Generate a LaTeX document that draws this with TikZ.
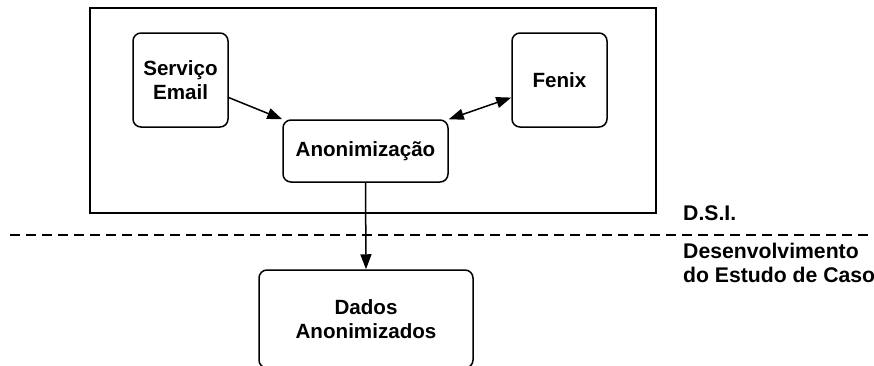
\documentclass[tikz,border=0pt]{standalone}
\usepackage{fontspec}
\setmainfont{Liberation Sans}
\usepackage{tikz}
\usetikzlibrary{arrows.meta}

\begin{document}
\begin{tikzpicture}[x=1pt, y=-1pt,
    box/.style={rectangle, draw, rounded corners=8pt, line width=1.5pt, align=center,
        font=\fontsize{20.6}{23.5}\selectfont\bfseries, inner sep=0pt},
    edge/.style={line width=1.5pt, -{Triangle[length=15pt,width=11pt]}}]
            \useasboundingbox (0,0) rectangle (874,365);

            % Frame and border
            \draw[line width=1.5pt] (90,8) rectangle (656,213);
            \draw[line width=1.5pt, dash pattern=on 10pt off 6pt] (10,235) -- (874,235);

            % Nodes
            \node[box, minimum width=95pt, minimum height=94pt] (servico) at (180.5,80) {Servi\c{c}o\\Email};
            \node[box, minimum width=95pt, minimum height=94pt] (fenix) at (559.5,80) {Fenix};
            \node[box, minimum width=165pt, minimum height=62pt] (anon) at (365.5,151) {Anonimiza\c{c}\~ao};
            \node[box, minimum width=214pt, minimum height=98pt] (dados) at (366,319) {Dados\\Anonimizados};

            % Labels
            \node[anchor=west, font=\fontsize{21.2}{23.5}\selectfont\bfseries, inner sep=0pt] (dsi) at (683,213) {D.S.I.};
            \node[anchor=west, align=left, font=\fontsize{21.2}{23.5}\selectfont\bfseries, inner sep=0pt] (estudo) at (683,263) {Desenvolvimento\\do Estudo de Caso};

            % Edges
            \draw[edge] (servico.-20.5) -- (anon.north west);
            \draw[edge, {Triangle[length=15pt,width=11pt]}-{Triangle[length=15pt,width=11pt]}] (anon.north east) -- (fenix.200.5);
            \draw[edge] (anon.south) -- (dados.north);
        \end{tikzpicture}
\end{document}
